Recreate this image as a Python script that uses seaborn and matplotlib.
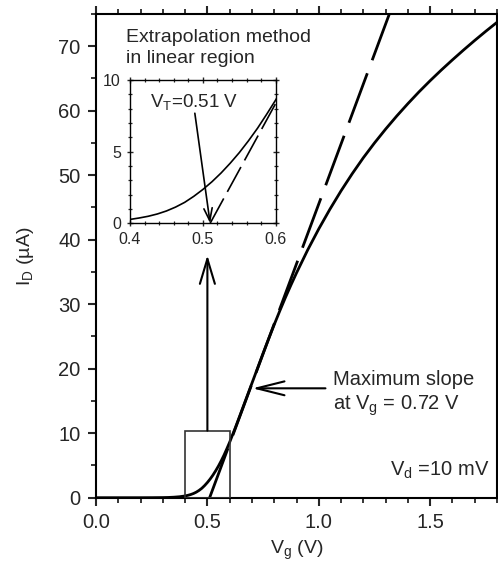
import matplotlib
matplotlib.use('Agg')
import matplotlib.pyplot as plt
import seaborn as sns
import pandas as pd
from matplotlib.patches import Rectangle
from matplotlib.ticker import MultipleLocator, FormatStrFormatter

# ---- data ----
vg = [0.0, 0.1, 0.2, 0.25, 0.3, 0.325, 0.35, 0.375, 0.4, 0.4125, 0.425, 0.4375,
      0.45, 0.4625, 0.475, 0.4875, 0.5, 0.5125, 0.525, 0.5375, 0.55, 0.5625,
      0.575, 0.5875, 0.6, 0.625, 0.65, 0.675, 0.7, 0.725, 0.75,
      0.775, 0.8, 0.825, 0.85, 0.875, 0.9, 0.95, 1.0, 1.05, 1.1, 1.15, 1.2,
      1.25, 1.3, 1.35, 1.4, 1.45, 1.5, 1.55, 1.6, 1.65, 1.7, 1.75, 1.8]
id_ua = [0.0, 0.0, 0.0, 0.005, 0.02, 0.04, 0.08, 0.15, 0.27, 0.37, 0.49, 0.65,
         0.86, 1.13, 1.46, 1.88, 2.36, 2.9, 3.51, 4.19, 4.93, 5.75,
         6.63, 7.6, 8.61, 10.81, 13.11, 15.43, 17.75, 20.07, 22.39,
         24.64, 26.84, 28.97, 31.02, 32.97, 34.85, 38.4, 41.68, 44.73, 47.58,
         50.23, 52.71, 55.0, 57.15, 59.18, 61.1, 62.93, 64.66, 66.31, 67.89,
         69.42, 70.9, 72.33, 73.71]
tangent_vg = [0.51, 1.32]
tangent_id = [0.0, 75.3]
vt_value = 0.51
max_slope_vg = 0.702
max_slope_id = 16.96

df = pd.DataFrame({'Vg': vg, 'ID': id_ua})
tan_df = pd.DataFrame({'Vg': tangent_vg, 'ID': tangent_id})

sns.set_style('ticks')
plt.rcParams['font.family'] = ['Liberation Sans', 'DejaVu Sans']
plt.rcParams['mathtext.default'] = 'regular'

fig = plt.figure(figsize=(4.98, 5.72), dpi=100)
ax = fig.add_axes([96 / 498, 1 - 497.7 / 572, 401 / 498, (497.7 - 14) / 572])

sns.lineplot(data=df, x='Vg', y='ID', ax=ax, color='black', lw=2.0)
sns.lineplot(data=tan_df, x='Vg', y='ID', ax=ax, color='black', lw=2.0)
ax.lines[-1].set_dashes((19, 5))

ax.set_xlim(0, 1.8)
ax.set_ylim(0, 75)
ax.xaxis.set_major_locator(MultipleLocator(0.5))
ax.xaxis.set_minor_locator(MultipleLocator(0.1))
ax.yaxis.set_major_locator(MultipleLocator(10))
ax.yaxis.set_minor_locator(MultipleLocator(5))
ax.xaxis.set_major_formatter(FormatStrFormatter('%.1f'))
ax.tick_params(axis='both', which='major', direction='out', length=6, width=1.5,
               labelsize=14.5, pad=5, top=True, right=False)
ax.tick_params(axis='both', which='minor', direction='out', length=3.5, width=1.3,
               top=True, right=False)
for s in ax.spines.values():
    s.set_linewidth(1.5)
    s.set_visible(True)
    s.set_color('black')

ax.set_xlabel('V$_g$ (V)', fontsize=14)
ax.set_ylabel('I$_D$ (µA)', fontsize=14)
ax.xaxis.set_label_coords(0.5, -0.085)
ax.yaxis.set_label_coords(-0.15, 0.5)

# box around the zoomed region
ax.add_patch(Rectangle((0.4, 0), 0.2, 10.4, fill=False, lw=1.2, edgecolor='#333333', zorder=3))
# vertical arrow to inset
ax.annotate('', xy=(0.5, 37.6), xytext=(0.5, 10.4),
            arrowprops=dict(arrowstyle='->,head_length=0.9,head_width=0.27',
                            lw=1.5, color='black', mutation_scale=20,
                            shrinkA=0, shrinkB=0))
# maximum slope arrow
ax.annotate('', xy=(max_slope_vg, max_slope_id), xytext=(1.03, max_slope_id),
            arrowprops=dict(arrowstyle='->,head_length=1.0,head_width=0.25',
                            lw=1.5, color='black', mutation_scale=20,
                            shrinkA=0, shrinkB=0))

ax.text(0.135, 70.7, 'Extrapolation method', fontsize=14, va='baseline', ha='left')
ax.text(0.135, 67.4, 'in linear region', fontsize=14, va='baseline', ha='left')
ax.text(1.064, 17.5, 'Maximum slope', fontsize=14.5, va='baseline', ha='left')
ax.text(1.064, 13.6, 'at V$_g$ = 0.72 V', fontsize=14.5, va='baseline', ha='left')
ax.text(1.765, 3.36, 'V$_d$ =10 mV', fontsize=14.5, va='baseline', ha='right')

# ---- inset ----
ins = fig.add_axes([130 / 498, 1 - 223.3 / 572, 145.7 / 498, 143.3 / 572])
sns.lineplot(data=df, x='Vg', y='ID', ax=ins, color='black', lw=1.2)
sns.lineplot(data=tan_df, x='Vg', y='ID', ax=ins, color='black', lw=1.2)
ins.lines[-1].set_dashes((17, 4.5))
ins.set_xlim(0.4, 0.6)
ins.set_ylim(0, 10)
ins.xaxis.set_major_locator(MultipleLocator(0.1))
ins.xaxis.set_minor_locator(MultipleLocator(0.02))
ins.yaxis.set_major_locator(MultipleLocator(5))
ins.yaxis.set_minor_locator(MultipleLocator(1))
ins.xaxis.set_major_formatter(FormatStrFormatter('%.1f'))
ins.tick_params(axis='both', which='major', direction='inout', length=5, width=1.0,
                labelsize=11.5, pad=4, top=True, right=True)
ins.tick_params(axis='both', which='minor', direction='inout', length=3, width=0.9,
                top=True, right=True)
for s in ins.spines.values():
    s.set_linewidth(1.0)
    s.set_visible(True)
    s.set_color('black')
ins.set_xlabel('')
ins.set_ylabel('')
ins.text(0.4275, 8.14, 'V$_T$=0.51 V', fontsize=13.5, va='baseline', ha='left')
ins.annotate('', xy=(vt_value, 0), xytext=(0.489, 7.68),
             arrowprops=dict(arrowstyle='->,head_length=0.6,head_width=0.2',
                             lw=1.2, color='black', mutation_scale=15,
                             shrinkA=0, shrinkB=0))

fig.savefig('out.png', dpi=100)
